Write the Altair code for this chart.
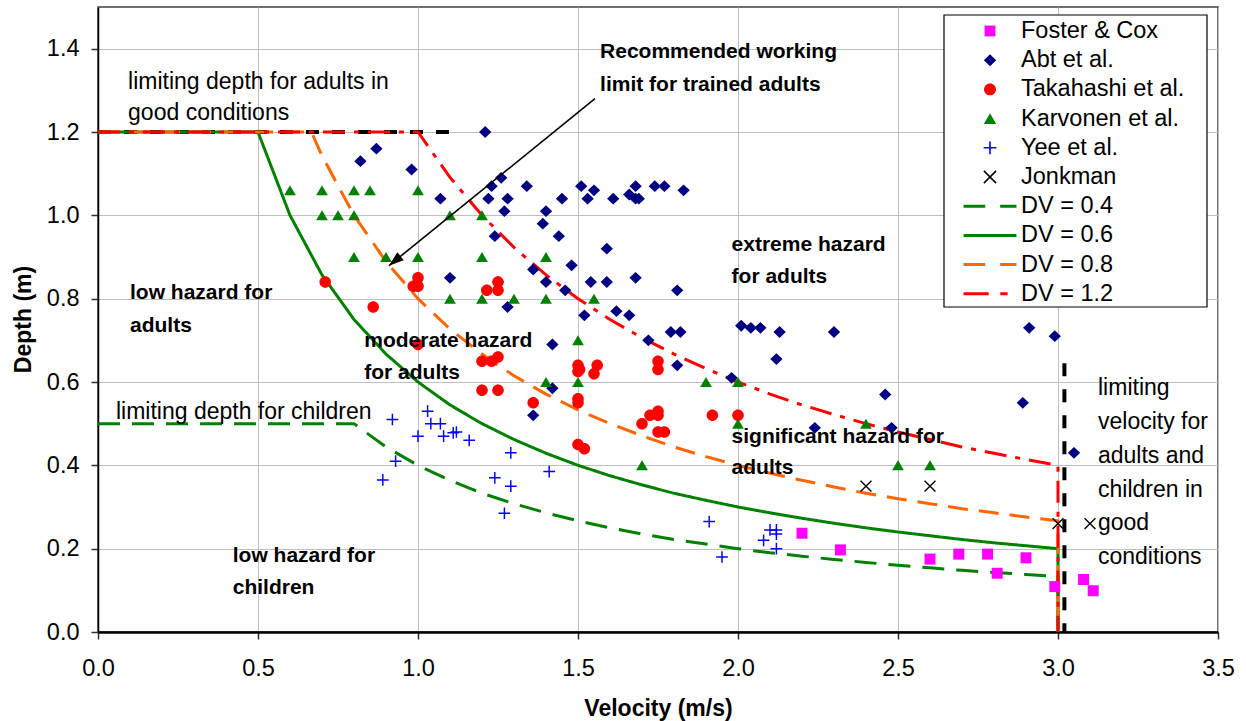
import altair as alt
import pandas as pd

FONT = "Liberation Sans"

# ---------------- data ----------------
series_names = ["Foster & Cox", "Abt et al.", "Takahashi et al.", "Karvonen et al.",
                "Yee et al.", "Jonkman", "DV = 0.4", "DV = 0.6", "DV = 0.8", "DV = 1.2"]
series_colors = ["#FF00FF", "#000080", "#FF0000", "#008000", "#0000FF", "#000000",
                 "#008000", "#008000", "#FF6600", "#FF0000"]

foster_v = [2.20, 2.32, 2.60, 2.69, 2.78, 2.81, 2.90, 2.99, 3.08, 3.11]
foster_d = [0.237, 0.197, 0.175, 0.187, 0.187, 0.141, 0.178, 0.109, 0.126, 0.099]

abt_v = [1.21, 0.82, 0.87, 0.98, 1.23, 1.26, 1.34, 1.51, 1.55, 1.66, 1.68, 1.69, 1.68, 1.74, 1.77, 1.83,
         1.07, 1.22, 1.28, 1.45, 1.53, 1.61, 1.27, 1.40, 1.39, 1.24, 1.44, 1.59, 1.48, 1.36, 1.10, 1.68,
         1.40, 1.54, 1.59, 1.46, 1.25, 1.81, 1.28, 1.52, 1.62, 1.66, 1.42, 1.72, 1.79, 1.82, 2.01, 2.04,
         2.07, 2.13, 2.30, 2.12, 1.81, 1.98, 1.42, 1.36, 2.46, 2.48, 2.24, 2.91, 2.99, 2.89, 3.05]
abt_d = [1.20, 1.13, 1.16, 1.11, 1.07, 1.09, 1.07, 1.07, 1.06, 1.05, 1.07, 1.04, 1.04, 1.07, 1.07, 1.06,
         1.04, 1.04, 1.04, 1.04, 1.04, 1.04, 1.01, 1.01, 0.98, 0.95, 0.95, 0.92, 0.88, 0.87, 0.85, 0.85,
         0.84, 0.84, 0.84, 0.82, 0.84, 0.82, 0.78, 0.76, 0.77, 0.76, 0.69, 0.70, 0.72, 0.72, 0.735, 0.73,
         0.73, 0.72, 0.72, 0.655, 0.64, 0.61, 0.585, 0.52, 0.57, 0.49, 0.49, 0.73, 0.71, 0.55, 0.43]

taka_v = [0.71, 0.86, 1.00, 0.985, 1.00, 1.00, 1.215, 1.25, 1.25, 1.20, 1.23, 1.25, 1.20, 1.25, 1.36, 1.50,
          1.50, 1.505, 1.56, 1.55, 1.50, 1.50, 1.50, 1.52, 1.75, 1.75, 1.70, 1.725, 1.75, 1.75, 1.75, 1.77,
          1.92, 2.00]
taka_d = [0.84, 0.78, 0.85, 0.83, 0.83, 0.69, 0.82, 0.84, 0.82, 0.65, 0.65, 0.66, 0.58, 0.58, 0.55, 0.64,
          0.625, 0.63, 0.64, 0.62, 0.56, 0.55, 0.45, 0.44, 0.65, 0.63, 0.50, 0.52, 0.53, 0.52, 0.48, 0.48,
          0.52, 0.52]

karv_v = [0.60, 0.70, 0.80, 0.85, 1.00, 0.70, 0.75, 0.80, 1.10, 1.20, 0.80, 0.90, 1.00, 1.20, 1.40,
          1.10, 1.20, 1.30, 1.40, 1.55, 1.50, 1.40, 1.50, 1.90, 2.00, 2.00, 2.40, 1.70, 2.50, 2.60]
karv_d = [1.06, 1.06, 1.06, 1.06, 1.06, 1.00, 1.00, 1.00, 1.00, 1.00, 0.90, 0.90, 0.90, 0.90, 0.90,
          0.80, 0.80, 0.80, 0.80, 0.80, 0.70, 0.60, 0.60, 0.60, 0.60, 0.50, 0.50, 0.40, 0.40, 0.40]

yee_v = [0.92, 1.03, 1.04, 1.07, 1.00, 1.08, 1.11, 1.12, 1.16, 0.93, 0.89, 1.29, 1.24, 1.29, 1.27, 1.41,
         1.91, 1.95, 2.08, 2.10, 2.12, 2.12, 2.12]
yee_d = [0.51, 0.53, 0.50, 0.50, 0.47, 0.47, 0.478, 0.48, 0.46, 0.41, 0.365, 0.43, 0.37, 0.35, 0.285, 0.385,
         0.265, 0.18, 0.22, 0.245, 0.245, 0.235, 0.20]

jonk_v = [2.40, 2.60, 3.00, 3.10]
jonk_d = [0.35, 0.35, 0.26, 0.26]

# hazard threshold curves (depth x velocity = DV), tabulated points
dv04_v = [0.0, 0.8, 0.9, 1.0, 1.1, 1.2, 1.3, 1.4, 1.5, 1.6, 1.7, 1.8, 1.9, 2.0, 2.1, 2.2, 2.3, 2.4, 2.5,
          2.6, 2.7, 2.8, 2.9, 3.0, 3.0]
dv04_d = [0.5, 0.5, 0.444, 0.4, 0.364, 0.333, 0.308, 0.286, 0.267, 0.25, 0.235, 0.222, 0.211, 0.2, 0.19,
          0.182, 0.174, 0.167, 0.16, 0.154, 0.148, 0.143, 0.138, 0.133, 0.0]
dv06_v = [0.0, 0.5, 0.6, 0.7, 0.8, 0.9, 1.0, 1.1, 1.2, 1.3, 1.4, 1.5, 1.6, 1.7, 1.8, 1.9, 2.0, 2.1, 2.2,
          2.3, 2.4, 2.5, 2.6, 2.7, 2.8, 2.9, 3.0, 3.0]
dv06_d = [1.2, 1.2, 1.0, 0.857, 0.75, 0.667, 0.6, 0.545, 0.5, 0.462, 0.429, 0.4, 0.375, 0.353, 0.333,
          0.316, 0.3, 0.286, 0.273, 0.261, 0.25, 0.24, 0.231, 0.222, 0.214, 0.207, 0.2, 0.0]
dv08_v = [0.0, 0.667, 0.7, 0.8, 0.9, 1.0, 1.1, 1.2, 1.3, 1.4, 1.5, 1.6, 1.7, 1.8, 1.9, 2.0, 2.1, 2.2,
          2.3, 2.4, 2.5, 2.6, 2.7, 2.8, 2.9, 3.0, 3.0]
dv08_d = [1.2, 1.2, 1.143, 1.0, 0.889, 0.8, 0.727, 0.667, 0.615, 0.571, 0.533, 0.5, 0.471, 0.444, 0.421,
          0.4, 0.381, 0.364, 0.348, 0.333, 0.32, 0.308, 0.296, 0.286, 0.276, 0.267, 0.0]
dv12_v = [0.0, 1.0, 1.1, 1.2, 1.3, 1.4, 1.5, 1.6, 1.7, 1.8, 1.9, 2.0, 2.1, 2.2, 2.3, 2.4, 2.5, 2.6,
          2.7, 2.8, 2.9, 3.0, 3.0]
dv12_d = [1.2, 1.2, 1.091, 1.0, 0.923, 0.857, 0.8, 0.75, 0.706, 0.667, 0.632, 0.6, 0.571, 0.545,
          0.522, 0.5, 0.48, 0.462, 0.444, 0.429, 0.414, 0.4, 0.0]

# limiting lines (black dashed): depth limit for adults, velocity limit
limit_v1 = [0.0, 3.02]
limit_v2 = [1.135, 3.02]
limit_d1 = [1.2, 0.645]
limit_d2 = [1.2, 0.0]

# annotations
reg_text = ["limiting depth for adults in", "good conditions", "limiting depth for children",
            "limiting", "velocity for", "adults and", "children in", "good", "conditions"]
reg_v = [0.094, 0.094, 0.056, 3.125, 3.125, 3.125, 3.125, 3.125, 3.125]
reg_d = [1.319, 1.245, 0.528, 0.585, 0.504, 0.422, 0.341, 0.261, 0.181]

bold_text = ["Recommended working", "limit for trained adults", "extreme hazard", "for adults",
             "low hazard for", "adults", "moderate hazard", "for adults",
             "significant hazard for", "adults", "low hazard for", "children"]
bold_v = [1.569, 1.569, 1.980, 1.980, 0.100, 0.100, 0.832, 0.832, 1.980, 1.980, 0.421, 0.421]
bold_d = [1.392, 1.312, 0.928, 0.852, 0.814, 0.734, 0.699, 0.622, 0.468, 0.393, 0.182, 0.105]

arrow_v = [1.553, 0.909]
arrow_d = [1.280, 0.879]

x_ticks = [0.0, 0.5, 1.0, 1.5, 2.0, 2.5, 3.0, 3.5]
y_ticks = [0.0, 0.2, 0.4, 0.6, 0.8, 1.0, 1.2, 1.4]

# ---------------- tables ----------------
marker_series = series_names[:6]
pts = pd.concat([
    pd.DataFrame({"series": name, "v": vv, "d": dd})
    for name, vv, dd in [
        ("Foster & Cox", foster_v, foster_d), ("Abt et al.", abt_v, abt_d),
        ("Takahashi et al.", taka_v, taka_d), ("Karvonen et al.", karv_v, karv_d),
        ("Yee et al.", yee_v, yee_d), ("Jonkman", jonk_v, jonk_d)]
], ignore_index=True)

lines = pd.concat([
    pd.DataFrame({"series": name, "v": vv, "d": dd, "idx": list(range(len(vv)))})
    for name, vv, dd in [("DV = 0.4", dv04_v, dv04_d), ("DV = 0.6", dv06_v, dv06_d),
                         ("DV = 0.8", dv08_v, dv08_d), ("DV = 1.2", dv12_v, dv12_d)]
], ignore_index=True)

limits = pd.DataFrame({"v1": limit_v1, "v2": limit_v2, "d1": limit_d1, "d2": limit_d2})
regs = pd.DataFrame({"t": reg_text, "v": reg_v, "d": reg_d})
bolds = pd.DataFrame({"t": bold_text, "v": bold_v, "d": bold_d})
arrow = pd.DataFrame({"v1": [arrow_v[0]], "v2": [arrow_v[1]], "d1": [arrow_d[0]], "d2": [arrow_d[1]]})
arrow_tip = pd.DataFrame({"v": [arrow_v[1]], "d": [arrow_d[1]]})
legend_df = pd.DataFrame({"series": series_names})

# ---------------- scales / axes ----------------
xscale = alt.Scale(domain=[0, 3.5], nice=False, zero=False)
yscale = alt.Scale(domain=[0, 1.5], nice=False, zero=False)
xaxis = alt.Axis(title="Velocity (m/s)", values=x_ticks, format=".1f", labelFlush=False,
                 labelOverlap=False, domainWidth=2.5, tickSize=7, labelPadding=17,
                 titleY=83, titleBaseline="alphabetic")
yaxis = alt.Axis(title="Depth (m)", values=y_ticks, format=".1f", labelFlush=False,
                 labelOverlap=False, domainWidth=1.5, tickSize=7, labelPadding=12,
                 titleX=-68, titleY=312, titleBaseline="alphabetic")

color_scale = alt.Scale(domain=series_names, range=series_colors)


def X(f):
    return alt.X(f, type="quantitative", scale=xscale, axis=xaxis)


def Y(f):
    return alt.Y(f, type="quantitative", scale=yscale, axis=yaxis)


# symbol outlines (unit box); all filled so a single shape scale serves plot and legend
def bar(x1, x2, t=0.114):
    return f"M{x1},{-t}L{x2},{-t}L{x2},{t}L{x1},{t}Z"


def diag(a, t):
    return (f"M{-a + t},{-a - t}L{a + t},{a - t}L{a - t},{a + t}L{-a - t},{-a + t}Z"
            f"M{a - t},{-a - t}L{a + t},{-a + t}L{-a + t},{a + t}L{-a - t},{a - t}Z")


series_shapes = [
    "M-0.41,-0.41L0.41,-0.41L0.41,0.41L-0.41,0.41Z",
    "M-0.47,0L0,-0.45L0.47,0L0,0.45Z",
    "M-0.45,0A0.45,0.45,0,1,0,0.45,0A0.45,0.45,0,1,0,-0.45,0Z",
    "M0,-0.4L0.47,0.4L-0.47,0.4Z",
    "M-0.48,-0.06L0.48,-0.06L0.48,0.06L-0.48,0.06ZM-0.06,-0.48L0.06,-0.48L0.06,0.48L-0.06,0.48Z",
    diag(0.46, 0.042),
    bar(-2.0, -0.36) + bar(0.77, 2.0),
    bar(-2.0, 2.0),
    bar(-2.0, -0.36) + bar(0.77, 2.0),
    bar(-2.0, -0.1) + bar(0.78, 1.33),
]
marker_sizes = [719, 560, 711, 640, 729, 870]
legend_symbol_size = 700

shape_scale = alt.Scale(domain=series_names, range=series_shapes)
size_scale = alt.Scale(domain=marker_series, range=marker_sizes)
legend_yscale = alt.Scale(type="point", domain=series_names, range=[9.4, 301.4], padding=0.5)

# ---------------- plot layers ----------------
limit_layer = alt.Chart(limits).mark_rule(color="#000000", strokeWidth=4, strokeDash=[13, 13]).encode(
    x=X("v1"), x2="v2", y=Y("d1"), y2="d2")

dv_names = series_names[6:]
line_layer = alt.Chart(lines).mark_line(strokeWidth=3, strokeCap="butt").encode(
    x=X("v"), y=Y("d"),
    color=alt.Color("series:N", scale=color_scale, legend=None),
    strokeDash=alt.StrokeDash("series:N", scale=alt.Scale(
        domain=dv_names, range=[[22, 12], [1, 0], [20, 11], [22, 9, 5, 9]]), legend=None),
    detail="series:N",
    order=alt.Order("idx:Q"),
)

point_layer = alt.Chart(pts).mark_point(filled=True, opacity=1, strokeWidth=0).encode(
    x=X("v"), y=Y("d"),
    color=alt.Color("series:N", scale=color_scale, legend=None),
    shape=alt.Shape("series:N", scale=shape_scale, legend=None),
    size=alt.Size("series:N", scale=size_scale, legend=None),
)

reg_layer = alt.Chart(regs).mark_text(align="left", baseline="middle", font=FONT, fontSize=23,
                                      color="#000000").encode(x=X("v"), y=Y("d"), text="t:N")
bold_layer = alt.Chart(bolds).mark_text(align="left", baseline="middle", font=FONT, fontSize=21,
                                        fontWeight="bold", color="#000000").encode(
    x=X("v"), y=Y("d"), text="t:N")

arrow_layer = alt.Chart(arrow).mark_rule(color="#000000", strokeWidth=1.6).encode(
    x=X("v1"), x2="v2", y=Y("d1"), y2="d2")
arrow_head = alt.Chart(arrow_tip).mark_point(
    shape="M0,0L0.34,1L-0.34,1Z", filled=True, size=900, angle=231, color="#000000", opacity=1
).encode(x=X("v"), y=Y("d"))

main = alt.layer(limit_layer, line_layer, point_layer, reg_layer, bold_layer, arrow_layer, arrow_head)

# ---------------- legend (box + symbols + labels) ----------------
legend_box = alt.Chart(pd.DataFrame({"k": [0]})).mark_rect(
    fill="#FFFFFF", stroke="#000000", strokeWidth=1.2
).encode(x=alt.value(846), x2=alt.value(1109), y=alt.value(8), y2=alt.value(300))

legend_symbols = alt.Chart(legend_df).mark_point(
    filled=True, opacity=1, strokeWidth=0, size=legend_symbol_size
).encode(
    x=alt.value(892),
    y=alt.Y("series:N", scale=legend_yscale, axis=None, sort=series_names),
    color=alt.Color("series:N", scale=color_scale, legend=None),
    shape=alt.Shape("series:N", scale=shape_scale, legend=None),
)

legend_labels = alt.Chart(legend_df).mark_text(
    align="left", baseline="middle", font=FONT, fontSize=23.5, color="#000000"
).encode(
    x=alt.value(923),
    y=alt.Y("series:N", scale=legend_yscale, axis=None, sort=series_names),
    text="series:N",
)

legend_layer = alt.layer(legend_box, legend_symbols, legend_labels)

chart = alt.layer(main, legend_layer).resolve_scale(
    y="independent"
).properties(
    width=1120, height=625,
    autosize=alt.AutoSizeParams(type="none"),
    padding={"left": 98, "top": 7, "right": 28, "bottom": 89},
    background="#FFFFFF",
).configure_view(
    stroke="#404040", strokeWidth=1.5
).configure_axis(
    gridColor="#BEBEBE", gridWidth=1, domainColor="#000000", tickColor="#303030", tickWidth=1.5,
    labelFont=FONT, labelFontSize=23.5, labelColor="#000000",
    titleFont=FONT, titleFontSize=23, titleFontWeight="bold", titleColor="#000000",
)

chart.save("out.html", embed_options={"renderer": "svg", "actions": False})
